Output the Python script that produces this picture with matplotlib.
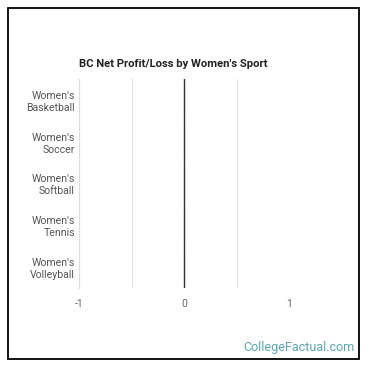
import matplotlib.pyplot as plt
from matplotlib.patches import Rectangle

sports = [
    "Women's\nBasketball",
    "Women's\nSoccer",
    "Women's\nSoftball",
    "Women's\nTennis",
    "Women's\nVolleyball",
]
net_profit = [0, 0, 0, 0, 0]
x_ticks = [-1, 0, 1]
x_labels = ["-1", "0", "1"]
x_minor = [-0.5, 0.5]

plt.rcParams["font.family"] = ["Roboto", "DejaVu Sans"]

fig = plt.figure(figsize=(3.7, 3.7), dpi=100)
fig.patch.set_facecolor("white")

# outer frame
fig.add_artist(Rectangle((8 / 370, 11 / 370), 351 / 370, 351 / 370,
                         transform=fig.transFigure, fill=False,
                         edgecolor="black", linewidth=1.3))

ax = fig.add_axes([79 / 370, 82 / 370, 210 / 370, 209 / 370])
ypos = list(range(len(sports)))
ax.barh(ypos, net_profit, height=0.7, color="#2d4a6b",
        edgecolor="#c8d3dd", linewidth=0.8)
ax.axvline(0, color="#333333", linewidth=1.0, zorder=3)

ax.set_xlim(-1, 1)
ax.set_ylim(len(sports) - 0.5, -0.5)
ax.set_yticks(ypos)
ax.set_yticklabels(sports, fontsize=7.6, color="#555555", linespacing=1.25)
ax.set_xticks(x_ticks)
ax.set_xticklabels(x_labels, fontsize=7.6, color="#666666")
ax.set_xticks(x_minor, minor=True)
ax.tick_params(axis="both", which="both", length=0)
ax.tick_params(axis="x", pad=8)
ax.tick_params(axis="y", pad=3)
ax.grid(axis="x", which="both", color="#e3e3e3", linewidth=0.8)
ax.set_axisbelow(True)
for s in ["top", "right", "bottom"]:
    ax.spines[s].set_visible(False)
ax.spines["left"].set_color("#dddddd")

fig.text(173 / 370, 1 - 64 / 370, "BC Net Profit/Loss by Women's Sport",
         ha="center", va="center", fontsize=8.1, fontweight="bold",
         color="#222222")
fig.text(355 / 370, 1 - 348 / 370, "CollegeFactual.com", ha="right",
         va="center", fontsize=9, color="#5aa5b4")

fig.savefig("out.png", dpi=100)
